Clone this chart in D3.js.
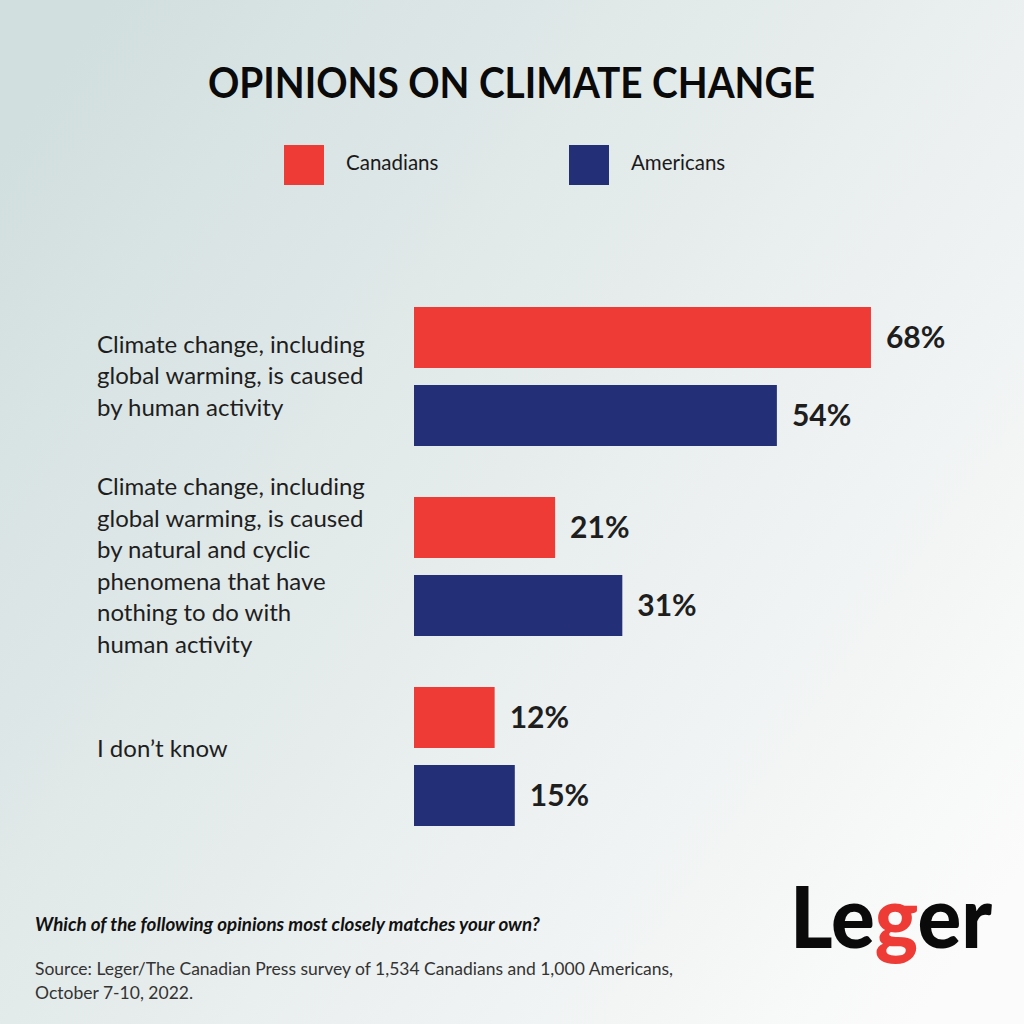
<!DOCTYPE html>
<html>
<head>
<meta charset="utf-8">
<script src="https://cdn.jsdelivr.net/npm/d3@7"></script>
<style>
html,body{margin:0;padding:0;background:#fff;}
svg{display:block;}
</style>
</head>
<body>
<script>
const categories = [
  ["Climate change, including", "global warming, is caused", "by human activity"],
  ["Climate change, including", "global warming, is caused", "by natural and cyclic", "phenomena that have", "nothing to do with", "human activity"],
  ["I don\u2019t know"]
];
const categoryKeys = ["human", "natural", "dontknow"];
const seriesNames = ["Canadians", "Americans"];
const canadians = [68, 21, 12];
const americans = [54, 31, 15];
const seriesColors = ["#ee3b35", "#233078"];

const W = 1024, H = 1024;
const FONT = "Lato, 'Open Sans', sans-serif";
const svg = d3.select("body").append("svg").attr("width", W).attr("height", H);

const defs = svg.append("defs");
const grad = defs.append("linearGradient").attr("id", "bg")
  .attr("x1", "0").attr("y1", "0.15").attr("x2", "1").attr("y2", "0.85");
grad.append("stop").attr("offset", "0").attr("stop-color", "#d2dfdf");
grad.append("stop").attr("offset", "0.55").attr("stop-color", "#e9eeee");
grad.append("stop").attr("offset", "1").attr("stop-color", "#fbfbfb");
svg.append("rect").attr("width", W).attr("height", H).attr("fill", "url(#bg)");

// Title
svg.append("text").attr("x", 208).attr("y", 98)
  .attr("font-family", FONT).attr("font-weight", 700).attr("font-size", 42)
  .attr("fill", "#0a0a0a").attr("textLength", 607).attr("lengthAdjust", "spacingAndGlyphs")
  .text("OPINIONS ON CLIMATE CHANGE");

// Legend
const legendX = [284, 569];
seriesNames.forEach((n, i) => {
  svg.append("rect").attr("x", legendX[i]).attr("y", 145).attr("width", 40).attr("height", 40)
    .attr("fill", seriesColors[i]);
  svg.append("text").attr("x", legendX[i] + 62).attr("y", 170)
    .attr("font-family", FONT).attr("font-size", 20.5).attr("fill", "#1a1a1a")
    .text(n);
});

// Scales
const x = d3.scaleLinear().domain([0, 100]).range([414, 414 + 672]);
const y = d3.scaleBand().domain(categoryKeys).range([307, 826]).paddingInner(51 / 190).paddingOuter(0);
const ys = d3.scaleBand().domain(seriesNames).range([0, y.bandwidth()]).paddingInner(17 / 78).paddingOuter(0);

const data = categoryKeys.map((k, i) => ({ key: k, lines: categories[i], values: [canadians[i], americans[i]] }));

const g = svg.append("g");
const groups = g.selectAll("g.grp").data(data).join("g").attr("class", "grp")
  .attr("transform", d => `translate(0,${y(d.key)})`);

groups.selectAll("rect").data(d => d.values.map((v, i) => ({ v, s: seriesNames[i], i })))
  .join("rect")
  .attr("x", x(0)).attr("y", d => ys(d.s))
  .attr("width", d => x(d.v) - x(0)).attr("height", ys.bandwidth())
  .attr("fill", d => seriesColors[d.i]);

groups.selectAll("text.val").data(d => d.values.map((v, i) => ({ v, s: seriesNames[i], i })))
  .join("text").attr("class", "val")
  .attr("x", d => x(d.v) + 15).attr("y", d => ys(d.s) + ys.bandwidth() / 2)
  .attr("dy", "0.36em")
  .attr("font-family", FONT).attr("font-weight", 700).attr("font-size", 30)
  .attr("fill", "#1e1e1e")
  .text(d => d.v + "%");

// Category labels
const lineH = 31.5;
groups.each(function (d) {
  const n = d.lines.length;
  const cy = y.bandwidth() / 2 - (n === 1 ? 8 : 1);
  const t = d3.select(this).append("text")
    .attr("font-family", FONT).attr("font-size", 24).attr("fill", "#1e1e1e");
  d.lines.forEach((l, j) => {
    t.append("tspan").attr("x", 97)
      .attr("y", cy + (j - (n - 1) / 2) * lineH)
      .attr("dy", "0.36em").text(l);
  });
});

// Footer
svg.append("text").attr("x", 35).attr("y", 931)
  .attr("font-family", FONT).attr("font-weight", 700).attr("font-style", "italic")
  .attr("font-size", 18.8).attr("fill", "#111")
  .text("Which of the following opinions most closely matches your own?");
const src = svg.append("text").attr("font-family", FONT).attr("font-size", 17.5).attr("fill", "#333");
src.append("tspan").attr("x", 35).attr("y", 975)
  .text("Source: Leger/The Canadian Press survey of 1,534 Canadians and 1,000 Americans,");
src.append("tspan").attr("x", 35).attr("y", 999).text("October 7-10, 2022.");

// Logo
const logo = svg.append("text").attr("x", 790).attr("y", 948)
  .attr("font-family", FONT).attr("font-weight", 900).attr("font-size", 86)
  .attr("textLength", 202).attr("lengthAdjust", "spacingAndGlyphs");
logo.append("tspan").attr("fill", "#0a0a0a").text("Le");
logo.append("tspan").attr("fill", "#ee3b35").text("g");
logo.append("tspan").attr("fill", "#0a0a0a").text("er");
</script>
</body>
</html>
